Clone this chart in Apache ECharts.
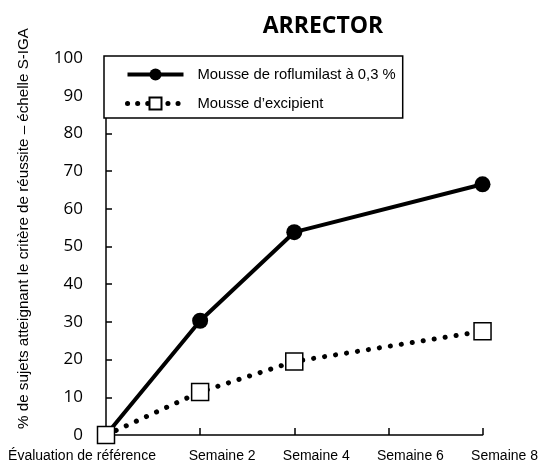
<!DOCTYPE html>
<html style="height: 100%">
<head>
    <meta charset="utf-8">
</head>
<body style="height: 100%; margin: 0; background: #fff">
<div id="container" style="width: 541px; height: 470px"></div>
<script src="https://cdn.jsdelivr.net/npm/echarts@6/dist/echarts.min.js"></script>
<script type="text/javascript">
    var categories = ['Évaluation de référence', 'Semaine 2', 'Semaine 4', 'Semaine 6', 'Semaine 8'];
    var roflumilast = [0, 30.3, 53.8, '-', 66.5];
    var excipient = [0, 11.4, 19.5, '-', 27.5];
    var yTicks = [0, 10, 20, 30, 40, 50, 60, 70, 80, 90, 100];

    var dom = document.getElementById("container");
    var myChart = echarts.init(dom);

    var option = {
        animation: false,
        backgroundColor: '#fff',
        title: {
            text: 'ARRECTOR',
            left: 318,
            textAlign: 'center',
            top: 10,
            textStyle: {fontFamily: 'Open Sans', fontWeight: 'bold', fontSize: 23, color: '#000'}
        },
        legend: {
            orient: 'vertical',
            left: 104,
            top: 56,
            padding: [11, 7, 7, 21],
            itemWidth: 56,
            itemHeight: 15,
            itemGap: 14,
            borderColor: '#000',
            borderWidth: 1.5,
            backgroundColor: '#fff',
            textStyle: {fontFamily: 'Liberation Sans', fontSize: 14.8, color: '#000', padding: [0, 0, 0, 9]},
            data: [
                {name: 'Mousse de roflumilast à 0,3 %', lineStyle: {width: 4}},
                {name: 'Mousse d\u2019excipient', lineStyle: {width: 5, type: [0.1, 10], cap: 'round'}}
            ]
        },
        grid: {left: 106, right: 57, top: 58, bottom: 35},
        xAxis: {
            type: 'category',
            boundaryGap: false,
            data: categories,
            axisLine: {lineStyle: {color: '#000', width: 1.5}},
            axisTick: {inside: true, length: 7, lineStyle: {color: '#000', width: 1.5}},
            axisLabel: {
                margin: 14,
                color: '#000',
                fontFamily: 'Liberation Sans',
                fontSize: 14,
                interval: 0,
                formatter: function (v, i) {
                    return i === 0 ? '{a|' + v + '}' : '{b|' + v + '}';
                },
                rich: {
                    a: {fontFamily: 'Liberation Sans', fontSize: 14, color: '#000', padding: [0, 48, 0, 0]},
                    b: {fontFamily: 'Liberation Sans', fontSize: 14, color: '#000', padding: [0, 0, 0, 44]}
                }
            }
        },
        yAxis: {
            type: 'value',
            min: yTicks[0],
            max: yTicks[yTicks.length - 1],
            interval: 10,
            name: '% de sujets atteignant le critère de réussite \u2013 échelle S-IGA',
            nameLocation: 'middle',
            nameGap: 75,
            nameTextStyle: {fontFamily: 'Liberation Sans', fontSize: 15.2, color: '#000', padding: [0, 0, 0, 36]},
            splitLine: {show: false},
            axisLine: {show: true, lineStyle: {color: '#000', width: 1.5}},
            axisTick: {show: true, inside: true, length: 6, lineStyle: {color: '#000', width: 1.5}},
            axisLabel: {margin: 23, color: '#000', fontFamily: 'Open Sans', fontSize: 17}
        },
        series: [
            {
                name: 'Mousse de roflumilast à 0,3 %',
                type: 'line',
                data: roflumilast,
                connectNulls: true,
                symbol: 'circle',
                symbolSize: 16,
                itemStyle: {color: '#000'},
                lineStyle: {color: '#000', width: 4}
            },
            {
                name: 'Mousse d\u2019excipient',
                type: 'line',
                data: excipient,
                connectNulls: true,
                symbol: 'rect',
                symbolSize: 17,
                z: 3,
                itemStyle: {color: '#fff', borderColor: '#000', borderWidth: 1.5},
                lineStyle: {color: '#000', width: 5, type: [0.1, 11], cap: 'round'}
            }
        ]
    };

    myChart.setOption(option);
</script>
</body>
</html>
